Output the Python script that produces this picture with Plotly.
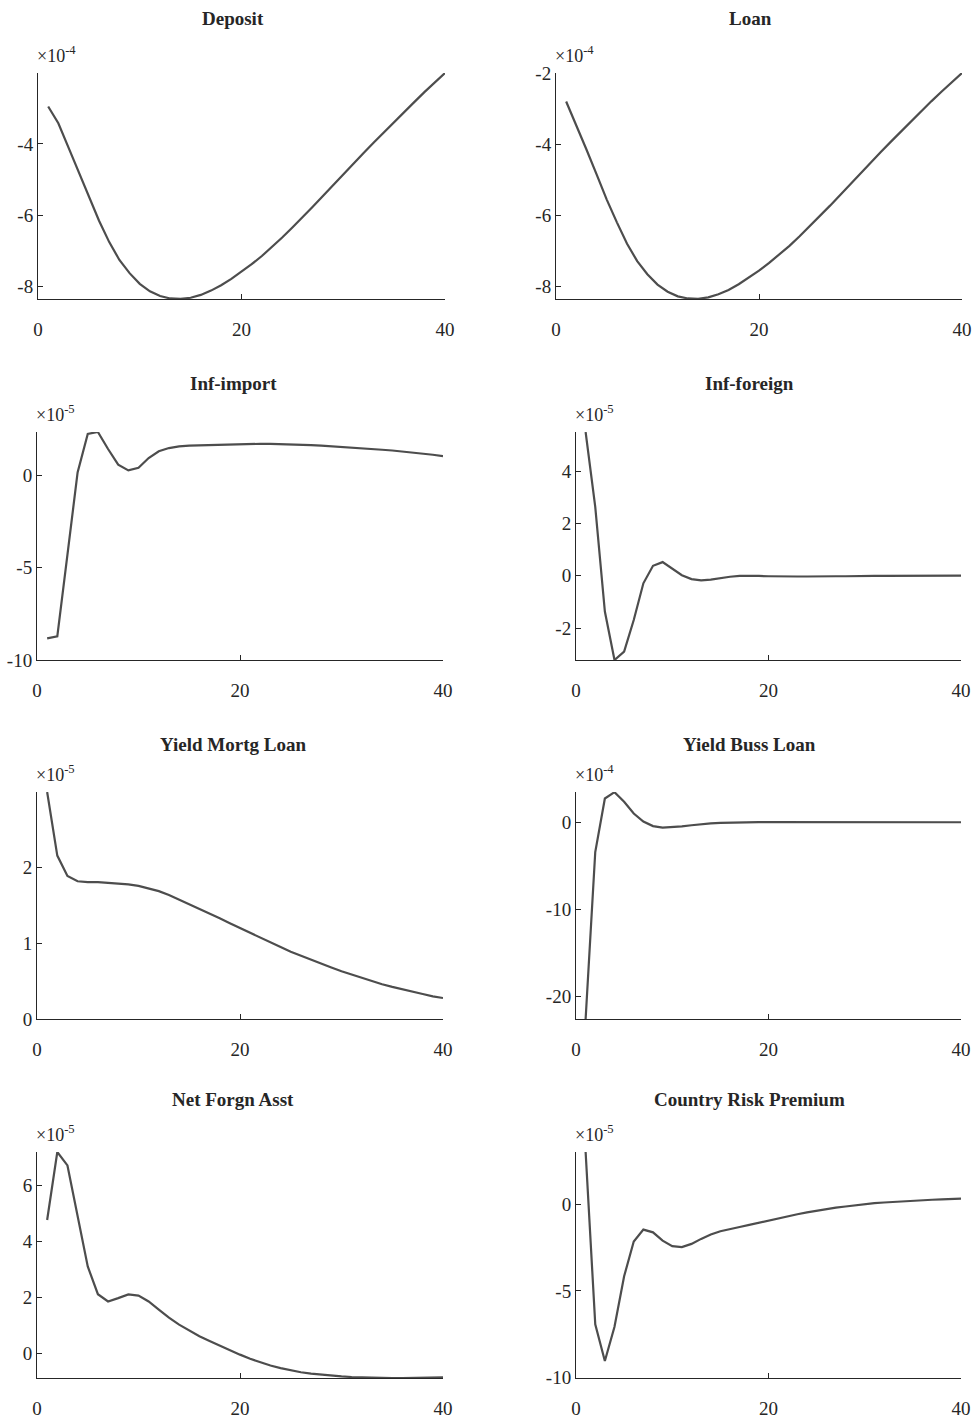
import plotly.graph_objects as go

W, H = 980, 1420
periods = list(range(1, 41))

titles = ["Deposit", "Loan", "Inf-import", "Inf-foreign",
          "Yield Mortg Loan", "Yield Buss Loan", "Net Forgn Asst", "Country Risk Premium"]
exponents = ["-4", "-4", "-5", "-5", "-5", "-4", "-5", "-5"]

deposit_e4 = [-2.95, -3.42, -4.10, -4.78, -5.50, -6.15, -6.75, -7.25, -7.62, -7.92,
              -8.13, -8.26, -8.33, -8.34, -8.31, -8.23, -8.11, -7.96, -7.78, -7.58,
              -7.37, -7.14, -6.89, -6.62, -6.34, -6.06, -5.76, -5.46, -5.15, -4.85,
              -4.55, -4.25, -3.96, -3.67, -3.38, -3.10, -2.82, -2.54, -2.27, -2.01]
loan_e4 = [-2.80, -3.45, -4.15, -4.85, -5.56, -6.20, -6.80, -7.29, -7.66, -7.95,
           -8.15, -8.28, -8.34, -8.35, -8.31, -8.22, -8.10, -7.94, -7.76, -7.56,
           -7.34, -7.11, -6.86, -6.59, -6.31, -6.03, -5.73, -5.43, -5.12, -4.82,
           -4.52, -4.22, -3.93, -3.64, -3.35, -3.07, -2.79, -2.52, -2.26, -2.00]
inf_import_e5 = [-8.83, -8.72, -4.30, 0.15, 2.24, 2.34, 1.42, 0.57, 0.26, 0.40,
                 0.93, 1.30, 1.47, 1.56, 1.60, 1.62, 1.63, 1.64, 1.66, 1.68,
                 1.70, 1.70, 1.70, 1.69, 1.67, 1.65, 1.63, 1.60, 1.57, 1.54,
                 1.50, 1.46, 1.42, 1.38, 1.34, 1.29, 1.24, 1.18, 1.11, 1.03]
inf_foreign_e5 = [5.49, 2.63, -1.37, -3.22, -2.90, -1.69, -0.29, 0.38, 0.52, 0.27,
                  0.02, -0.13, -0.18, -0.15, -0.09, -0.04, -0.01, 0.00, -0.01, -0.02,
                  -0.03, -0.03, -0.03, -0.03, -0.02, -0.02, -0.02, -0.02, -0.01, -0.01,
                  -0.01, -0.01, -0.01, 0.00, 0.00, 0.00, 0.00, 0.00, 0.00, 0.00]
yield_mortg_e5 = [3.00, 2.16, 1.89, 1.82, 1.81, 1.81, 1.80, 1.79, 1.78, 1.76,
                  1.73, 1.69, 1.64, 1.58, 1.52, 1.455, 1.39, 1.33, 1.265, 1.20,
                  1.135, 1.07, 1.01, 0.95, 0.89, 0.835, 0.78, 0.73, 0.68, 0.63,
                  0.585, 0.545, 0.50, 0.46, 0.425, 0.39, 0.36, 0.33, 0.30, 0.277]
yield_buss_e4 = [-22.6, -3.40, 2.75, 3.48, 2.37, 1.03, 0.10, -0.42, -0.60, -0.57,
                 -0.46, -0.32, -0.20, -0.11, -0.05, -0.01, 0.01, 0.02, 0.03, 0.03,
                 0.03, 0.03, 0.03, 0.03, 0.03, 0.03, 0.03, 0.03, 0.03, 0.03,
                 0.03, 0.03, 0.03, 0.03, 0.03, 0.02, 0.02, 0.02, 0.02, 0.02]
net_forgn_e5 = [4.76, 7.19, 6.71, 4.95, 3.10, 2.11, 1.85, 1.97, 2.10, 2.06,
                1.85, 1.56, 1.27, 1.02, 0.80, 0.61, 0.44, 0.27, 0.10, -0.05,
                -0.20, -0.33, -0.44, -0.53, -0.61, -0.68, -0.73, -0.77, -0.80, -0.83,
                -0.85, -0.865, -0.875, -0.88, -0.885, -0.885, -0.885, -0.88, -0.875, -0.86]
country_risk_e5 = [3.06, -6.94, -9.06, -7.08, -4.15, -2.13, -1.44, -1.60, -2.08, -2.40,
                   -2.46, -2.27, -1.98, -1.73, -1.54, -1.40, -1.29, -1.17, -1.04, -0.92,
                   -0.79, -0.67, -0.55, -0.44, -0.34, -0.25, -0.17, -0.10, -0.03, 0.04,
                   0.09, 0.13, 0.17, 0.21, 0.24, 0.27, 0.29, 0.31, 0.33, 0.35]

series = [deposit_e4, loan_e4, inf_import_e5, inf_foreign_e5,
          yield_mortg_e5, yield_buss_e4, net_forgn_e5, country_risk_e5]
y_ranges = [[-8.345, -2.01], [-8.355, -2.0], [-10, 2.34], [-3.22, 5.49],
            [0, 3.0], [-22.6, 3.5], [-0.885, 7.19], [-10.05, 3.06]]
y_ticks = [[-8, -6, -4], [-8, -6, -4, -2], [-10, -5, 0], [-2, 0, 2, 4],
           [0, 1, 2], [-20, -10, 0], [0, 2, 4, 6], [-10, -5, 0]]
x_ticks = [0, 20, 40]

# pixel boxes of each plot area: (left, right, top, bottom)
boxes = [(38, 445, 73, 299), (556, 962, 73, 299),
         (37, 443, 432, 660), (576, 961, 432, 660),
         (37, 443, 792, 1019), (576, 961, 792, 1019),
         (37, 443, 1152, 1378), (576, 961, 1152, 1378)]
title_pos = [(233, 18), (750, 18), (233, 383), (749, 383),
             (233, 743), (749, 743), (233, 1098), (749, 1098)]

FONT = "Liberation Serif"
TXT = "#262626"
LINE = "#4d4d4d"


def lab(v):
    return str(v)  # plain hyphen-minus like the reference


fig = go.Figure()
layout = dict(width=W, height=H, margin=dict(l=0, r=0, t=0, b=0),
              plot_bgcolor="white", paper_bgcolor="white", showlegend=False,
              font=dict(family=FONT, size=18, color=TXT))
annotations = []
for i in range(8):
    k = "" if i == 0 else str(i + 1)
    l, r, t, b = boxes[i]
    fig.add_trace(go.Scatter(x=periods, y=series[i], mode="lines",
                             line=dict(color=LINE, width=2.2),
                             xaxis="x" + k, yaxis="y" + k, hoverinfo="skip"))
    layout["xaxis" + k] = dict(domain=[l / W, r / W], anchor="y" + k, automargin=False,
                               range=[0, 40], tickvals=x_ticks,
                               ticktext=[lab(v) for v in x_ticks],
                               showline=True, linecolor=TXT, linewidth=1,
                               ticks="inside", ticklen=5, tickcolor=TXT,
                               showgrid=False, zeroline=False,
                               ticklabelstandoff=13,
                               tickfont=dict(family=FONT, size=19, color=TXT))
    layout["yaxis" + k] = dict(domain=[1 - b / H, 1 - t / H], anchor="x" + k, automargin=False,
                               range=y_ranges[i], tickvals=y_ticks[i],
                               ticktext=[lab(v) for v in y_ticks[i]],
                               showline=True, linecolor=TXT, linewidth=1,
                               ticks="inside", ticklen=5, tickcolor=TXT,
                               showgrid=False, zeroline=False,
                               tickfont=dict(family=FONT, size=19, color=TXT))
    tx, ty = title_pos[i]
    annotations.append(dict(text="<b>" + titles[i] + "</b>", xref="paper", yref="paper",
                            x=tx / W, y=1 - (ty + 1) / H, xanchor="center", yanchor="middle",
                            showarrow=False, font=dict(family=FONT, size=19, color=TXT)))
    annotations.append(dict(text="×10<sup>" + exponents[i] + "</sup>", xref="paper", yref="paper",
                            x=(l - 3) / W, y=1 - (t - 5) / H, xanchor="left", yanchor="bottom",
                            showarrow=False, font=dict(family=FONT, size=18, color=TXT)))
layout["annotations"] = annotations
fig.update_layout(**layout)
fig.write_html("out.html")
